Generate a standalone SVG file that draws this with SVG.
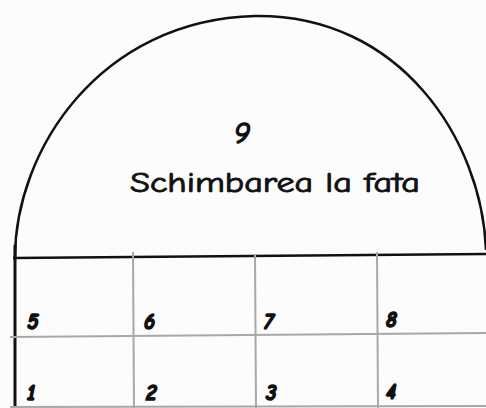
<svg xmlns="http://www.w3.org/2000/svg" width="486" height="408" viewBox="0 0 486 408">
<style>
.t{font-family:"Comic Neue","DejaVu Sans","Liberation Sans",sans-serif;fill:#111;stroke:#111;stroke-width:0.9;}
.n{font-size:21px;font-weight:bold;font-style:italic;stroke-width:1.6;}
.g{stroke:#a8a8a8;stroke-width:2;fill:none;}
.k{stroke:#111;fill:none;}
</style>
<rect width="486" height="408" fill="#fcfcfc"/>
<g id="arch">
<path class="k" stroke-width="2.5" d="M15,258 C15,150 100,20 255,16 C400,14 482,140 486,250"/>
<text class="t" x="234" y="143" font-size="30" font-style="italic" style="stroke-width:1.6">9</text>
<text class="t" x="130" y="192" font-size="28" textLength="290" lengthAdjust="spacingAndGlyphs">Schimbarea la fata</text>
</g>
<g id="grid">
<line class="k" stroke-width="2.5" x1="13" y1="258" x2="486" y2="254"/>
<line class="k" stroke-width="3" x1="15" y1="245" x2="15" y2="408"/>
<line class="g" x1="10" y1="337" x2="486" y2="333"/>
<line class="g" x1="10" y1="407" x2="486" y2="406"/>
<line class="g" x1="133" y1="252" x2="134" y2="408"/>
<line class="g" x1="255" y1="254" x2="256" y2="408"/>
<line class="g" x1="377" y1="252" x2="378" y2="408"/>
</g>
<g id="cell5"><text class="t n" x="27" y="329">5</text></g>
<g id="cell6"><text class="t n" x="144" y="329">6</text></g>
<g id="cell7"><text class="t n" x="264" y="329">7</text></g>
<g id="cell8"><text class="t n" x="386" y="327">8</text></g>
<g id="cell1"><text class="t n" x="27" y="400">1</text></g>
<g id="cell2"><text class="t n" x="146" y="400">2</text></g>
<g id="cell3"><text class="t n" x="266" y="400">3</text></g>
<g id="cell4"><text class="t n" x="386" y="399">4</text></g>
</svg>
